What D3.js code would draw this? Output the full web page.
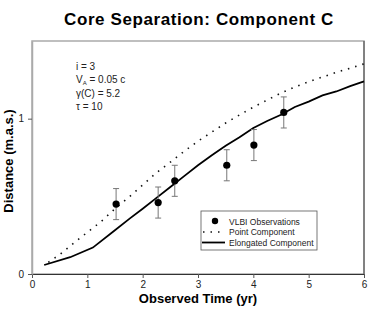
<!DOCTYPE html>
<html>
<head>
<meta charset="utf-8">
<script src="https://cdn.jsdelivr.net/npm/d3@7"></script>
<style>
  body { margin: 0; background: #fff; }
  text { font-family: Arial, "Liberation Sans", sans-serif; }
</style>
</head>
<body>
<div id="chart"></div>
<script>
// VLBI observations (yr, m.a.s.) with error
const obsTime = [1.52, 2.28, 2.58, 3.52, 4.01, 4.55];
const obsDist = [0.45, 0.46, 0.60, 0.70, 0.83, 1.04];
const obsErr = [0.10, 0.10, 0.10, 0.10, 0.10, 0.10];

// Point component model curve
const pointTime = [0.22, 0.5, 0.75, 1.0, 1.25, 1.5, 1.75, 2.0, 2.25, 2.5, 2.75, 3.0, 3.25, 3.5, 3.75, 4.0, 4.25, 4.5, 4.75, 5.0, 5.25, 5.5, 5.75, 6.0];
const pointDist = [0.057, 0.125, 0.198, 0.268, 0.338, 0.42, 0.494, 0.573, 0.652, 0.72, 0.79, 0.855, 0.914, 0.972, 1.024, 1.074, 1.12, 1.165, 1.204, 1.238, 1.268, 1.298, 1.325, 1.353];

// Elongated component model curve
const elongTime = [0.22, 0.69, 1.1, 1.47, 1.77, 2.0, 2.25, 2.5, 2.75, 3.0, 3.25, 3.5, 3.75, 4.0, 4.25, 4.5, 4.75, 5.0, 5.25, 5.5, 5.75, 6.0];
const elongDist = [0.058, 0.108, 0.17, 0.274, 0.358, 0.42, 0.49, 0.56, 0.63, 0.70, 0.765, 0.825, 0.88, 0.94, 0.985, 1.025, 1.075, 1.11, 1.15, 1.175, 1.21, 1.24];

const xTicks = [0, 1, 2, 3, 4, 5, 6];
const yTicks = [0, 1];
const notes = ["i = 3", "V_A = 0.05 c", "\u03B3(C) = 5.2", "\u03C4 = 10"];
const legendLabels = ["VLBI Observations", "Point Component", "Elongated Component"];

const width = 368, height = 314;
const margin = {top: 41, right: 4, bottom: 40, left: 32};

const svg = d3.select("#chart").append("svg")
    .attr("width", width)
    .attr("height", height);

const x = d3.scaleLinear().domain([0, 6]).range([margin.left, width - margin.right]);
const y = d3.scaleLinear().domain([0, 1.5]).range([height - margin.bottom, margin.top]);

// plot frame
svg.append("rect")
    .attr("x", x(0)).attr("y", y(1.5))
    .attr("width", x(6) - x(0)).attr("height", y(0) - y(1.5))
    .attr("fill", "none").attr("stroke", "#aaa").attr("stroke-width", 1.5);
svg.append("line")
    .attr("x1", x(6)).attr("x2", x(6)).attr("y1", y(1.5)).attr("y2", y(0))
    .attr("stroke", "#444");

// axes
const xAxis = svg.append("g")
    .attr("transform", `translate(0,${y(0)})`)
    .call(d3.axisBottom(x).tickValues(xTicks).tickSize(4).tickPadding(3).tickFormat(d3.format("d")));
xAxis.select(".domain").attr("stroke", "#333");
xAxis.selectAll(".tick line").attr("stroke", "#555");
xAxis.selectAll("text").attr("font-size", 10).attr("fill", "#222")
    .style("font-family", "Arial, 'Liberation Sans', sans-serif");

const yAxis = svg.append("g")
    .attr("transform", `translate(${x(0)},0)`)
    .call(d3.axisLeft(y).tickValues(yTicks).tickSize(4).tickPadding(4).tickSizeOuter(0).tickFormat(d3.format("d")));
yAxis.select(".domain").attr("stroke", "#aaa").attr("stroke-width", 1.5);
yAxis.selectAll(".tick line").attr("stroke", "#555");
yAxis.selectAll("text").attr("font-size", 10).attr("fill", "#222")
    .style("font-family", "Arial, 'Liberation Sans', sans-serif");

// curves
const line = d3.line().x(d => x(d[0])).y(d => y(d[1]));

svg.append("path")
    .datum(pointTime.map((t, i) => [t, pointDist[i]]))
    .attr("d", line)
    .attr("fill", "none").attr("stroke", "#111")
    .attr("stroke-width", 1.6)
    .attr("stroke-dasharray", "1.5,6")
    .attr("stroke-dashoffset", -5);

svg.append("path")
    .datum(elongTime.map((t, i) => [t, elongDist[i]]))
    .attr("d", line)
    .attr("fill", "none").attr("stroke", "#000")
    .attr("stroke-width", 1.8);

// error bars
const obs = obsTime.map((t, i) => ({t: t, d: obsDist[i], e: obsErr[i]}));
const eb = svg.append("g").attr("stroke", "#777").attr("stroke-width", 1);
eb.selectAll("line.v").data(obs).join("line").attr("class", "v")
    .attr("x1", d => x(d.t)).attr("x2", d => x(d.t))
    .attr("y1", d => y(d.d + d.e)).attr("y2", d => y(d.d - d.e));
eb.selectAll("line.top").data(obs).join("line").attr("class", "top")
    .attr("x1", d => x(d.t) - 3).attr("x2", d => x(d.t) + 3)
    .attr("y1", d => y(d.d + d.e)).attr("y2", d => y(d.d + d.e));
eb.selectAll("line.bot").data(obs).join("line").attr("class", "bot")
    .attr("x1", d => x(d.t) - 3).attr("x2", d => x(d.t) + 3)
    .attr("y1", d => y(d.d - d.e)).attr("y2", d => y(d.d - d.e));

svg.selectAll("circle.obs").data(obs).join("circle").attr("class", "obs")
    .attr("cx", d => x(d.t)).attr("cy", d => y(d.d))
    .attr("r", 3.6).attr("fill", "#000");

// annotation
const note = svg.append("text").attr("font-size", 10).attr("fill", "#222");
note.append("tspan").attr("x", 76).attr("y", 70).text(notes[0]);
const va = note.append("tspan").attr("x", 76).attr("y", 83);
va.append("tspan").text("V");
va.append("tspan").attr("font-size", 6).attr("dy", 2).text("A");
va.append("tspan").attr("dy", -2).text(notes[1].slice(3));
note.append("tspan").attr("x", 76).attr("y", 97).text(notes[2]);
note.append("tspan").attr("x", 76).attr("y", 110).text(notes[3]);

// legend
const lg = svg.append("g");
lg.append("rect").attr("x", 201).attr("y", 211).attr("width", 116).attr("height", 39)
    .attr("fill", "#fff").attr("stroke", "#555").attr("stroke-width", 0.8);
lg.append("circle").attr("cx", 215).attr("cy", 221).attr("r", 3.2).attr("fill", "#000");
lg.append("line").attr("x1", 203).attr("x2", 225).attr("y1", 232).attr("y2", 232)
    .attr("stroke", "#111").attr("stroke-width", 1.5).attr("stroke-dasharray", "1.5,6");
lg.append("line").attr("x1", 202).attr("x2", 225).attr("y1", 242.5).attr("y2", 242.5)
    .attr("stroke", "#000").attr("stroke-width", 1.8);
lg.selectAll("text").data(legendLabels).join("text")
    .attr("x", 229).attr("y", (d, i) => 224.5 + i * 10.6)
    .attr("font-size", 8.5).attr("fill", "#222").text(d => d);

// titles
svg.append("text").attr("x", 199).attr("y", 25).attr("text-anchor", "middle")
    .attr("font-size", 17).attr("font-weight", "bold").attr("fill", "#000")
    .attr("letter-spacing", 0.6)
    .text("Core Separation: Component C");
svg.append("text").attr("x", 198).attr("y", 303).attr("text-anchor", "middle")
    .attr("font-size", 13).attr("font-weight", "bold").attr("fill", "#000")
    .text("Observed Time (yr)");
svg.append("text").attr("transform", "translate(13,161) rotate(-90)")
    .attr("text-anchor", "middle")
    .attr("font-size", 13).attr("font-weight", "bold").attr("fill", "#000")
    .text("Distance (m.a.s.)");
</script>
</body>
</html>
